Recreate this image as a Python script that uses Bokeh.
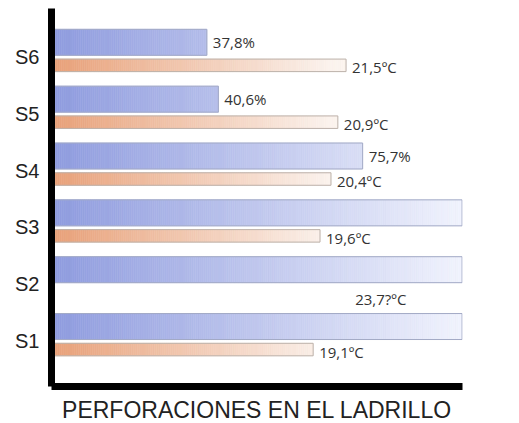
import numpy as np
from bokeh.plotting import figure
from bokeh.models import ColumnDataSource, LabelSet, FixedTicker, Range1d
from bokeh.core.properties import value
from bokeh.embed import file_html
from bokeh.resources import INLINE

# ---- data ----
categories = ["S1", "S2", "S3", "S4", "S5", "S6"]
percent = [99.9, 99.9, 99.9, 75.7, 40.6, 37.8]
percent_labels = ["99,9%", "99,9%", "99,9%", "75,7%", "40,6%", "37,8%"]
temperature = [19.1, 23.7, 19.6, 20.4, 20.9, 21.5]
temperature_labels = ["19,1ºC", "23,7?ºC", "19,6ºC", "20,4ºC", "20,9ºC", "21,5ºC"]
temperature_bar_shown = [True, False, True, True, True, True]
title_text = "PERFORACIONES EN EL LADRILLO"

# ---- layout / style ----
BLUE_OFF, BLUE_H = 0.255, 0.457
ORG_OFF, ORG_H = -0.15, 0.22
BLUE_L, BLUE_R = np.array([142, 155, 222]), np.array([241, 243, 253])
ORG_L, ORG_R = np.array([232, 160, 120]), np.array([251, 243, 238])
temp_label_dx = [6, -21, 6, 6, 6, 6]
temp_label_dy = [-2, -6, -2, -2, -2, -2]

def mix(c0, c1, t):
    c = c0 + (c1 - c0) * t
    return "#%02x%02x%02x" % tuple(int(round(v)) for v in c)

ys = np.arange(1, len(categories) + 1)

p = figure(frame_width=411, frame_height=378,
           x_range=Range1d(0, 100), y_range=Range1d(0.2, 6.85),
           output_backend="svg", toolbar_location=None,
           min_border_left=51, min_border_right=49,
           min_border_top=8, min_border_bottom=34)
p.extra_x_ranges = {"temp": Range1d(0, 30)}
p.outline_line_color = None
p.background_fill_color = "white"
p.border_fill_color = "white"
p.grid.visible = False

# blue gradient bars (colour by x position)
bl, br, bb, bt, bc = [], [], [], [], []
for y, v in zip(ys, percent):
    edges = np.append(np.arange(0, v, 0.5), v)
    for a, b in zip(edges[:-1], edges[1:]):
        bl.append(a); br.append(b)
        bb.append(y + BLUE_OFF - BLUE_H / 2); bt.append(y + BLUE_OFF + BLUE_H / 2)
        bc.append(mix(BLUE_L, BLUE_R, ((a + b) / 2) / 100))
p.quad(left=bl, right=br, bottom=bb, top=bt, fill_color=bc, line_color=bc, line_width=0.6)
p.quad(left=[0] * len(ys), right=percent,
       bottom=[y + BLUE_OFF - BLUE_H / 2 for y in ys],
       top=[y + BLUE_OFF + BLUE_H / 2 for y in ys],
       fill_color=None, line_color="#a3aac6", line_width=1)

# orange gradient bars
ol, orr, ob, ot, oc = [], [], [], [], []
oy, ov = [], []
for y, v, shown in zip(ys, temperature, temperature_bar_shown):
    if not shown:
        continue
    oy.append(y); ov.append(v)
    edges = np.append(np.arange(0, v, 0.15), v)
    for a, b in zip(edges[:-1], edges[1:]):
        ol.append(a); orr.append(b)
        ob.append(y + ORG_OFF - ORG_H / 2); ot.append(y + ORG_OFF + ORG_H / 2)
        oc.append(mix(ORG_L, ORG_R, min(((a + b) / 2) / 20.5, 1.0)))
p.quad(left=ol, right=orr, bottom=ob, top=ot, fill_color=oc, line_color=oc,
       line_width=0.6, x_range_name="temp")
p.quad(left=[0] * len(oy), right=ov,
       bottom=[y + ORG_OFF - ORG_H / 2 for y in oy],
       top=[y + ORG_OFF + ORG_H / 2 for y in oy],
       fill_color=None, line_color="#bcb2ab", line_width=1, x_range_name="temp")

# value labels
src_p = ColumnDataSource(dict(x=percent, y=[y + BLUE_OFF for y in ys], text=percent_labels))
p.add_layout(LabelSet(source=src_p, x="x", y="y", text="text", x_offset=6,
                      text_baseline="middle", text_font=value("Open Sans"),
                      text_font_size=value("15px"), text_color="#333333"))
src_t = ColumnDataSource(dict(x=temperature, y=[y + ORG_OFF for y in ys],
                              text=temperature_labels, dx=temp_label_dx, dy=temp_label_dy))
p.add_layout(LabelSet(source=src_t, x="x", y="y", text="text", x_offset="dx", y_offset="dy",
                      x_range_name="temp", text_baseline="middle",
                      text_font=value("Open Sans"),
                      text_font_size=value("15px"), text_color="#333333"))

# axes
ya = p.yaxis[0]
ya.ticker = FixedTicker(ticks=list(ys))
ya.major_label_overrides = {int(y): c for y, c in zip(ys, categories)}
ya.major_label_text_font = "Liberation Sans"
ya.major_label_text_font_size = "20px"
ya.major_label_text_color = "#222222"
ya.major_tick_in = 0
ya.major_tick_out = 0
ya.minor_tick_in = 0
ya.minor_tick_out = 0
ya.major_label_standoff = 12
ya.axis_line_width = 7
ya.axis_line_color = "black"

xa = p.xaxis[0]
xa.ticker = FixedTicker(ticks=[])
xa.major_tick_in = 0
xa.major_tick_out = 0
xa.minor_tick_in = 0
xa.minor_tick_out = 0
xa.major_label_standoff = 0
xa.axis_line_width = 7
xa.axis_line_color = "black"
xa.axis_label = title_text
xa.axis_label_text_font = "Liberation Sans"
xa.axis_label_text_font_size = "23px"
xa.axis_label_text_font_style = "normal"
xa.axis_label_text_color = "#222222"
xa.axis_label_standoff = 10

open("out.html", "w").write(file_html(p, INLINE))
